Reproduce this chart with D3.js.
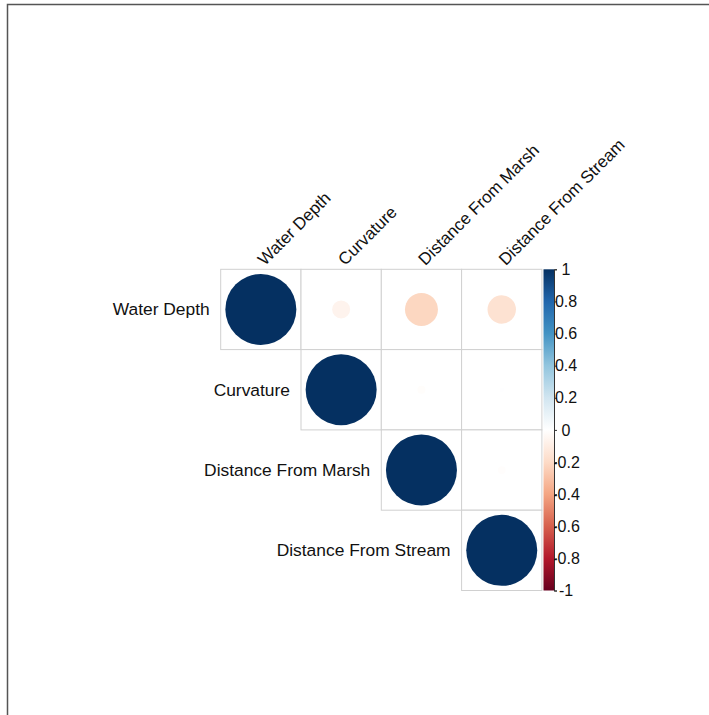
<!DOCTYPE html>
<html>
<head>
<meta charset="utf-8">
<script src="https://cdn.jsdelivr.net/npm/d3@7"></script>
<style>
  html, body { margin: 0; padding: 0; background: #fff; }
  svg { display: block; }
  text { font-family: "Liberation Sans", Arial, sans-serif; fill: #111; }
</style>
</head>
<body>
<svg id="chart" width="709" height="715"></svg>
<script>
// Variables of the correlation matrix
const variables = ["Water Depth", "Curvature", "Distance From Marsh", "Distance From Stream"];

// Correlation coefficients, one array per row (upper triangle is drawn)
const rowWaterDepth = [1, -0.064, -0.216, -0.16];
const rowCurvature = [-0.064, 1, -0.013, 0.004];
const rowDistanceMarsh = [-0.216, -0.013, 1, -0.012];
const rowDistanceStream = [-0.16, 0.004, -0.012, 1];

// Colour legend ticks
const legendTicks = [1, 0.8, 0.6, 0.4, 0.2, 0, -0.2, -0.4, -0.6, -0.8, -1];
const legendTickLabels = ["1", "0.8", "0.6", "0.4", "0.2", "0", "-0.2", "-0.4", "-0.6", "-0.8", "-1"];

// Diverging red-blue palette from -1 to 1
const paletteStops = [-1, -0.8, -0.6, -0.4, -0.2, 0, 0.2, 0.4, 0.6, 0.8, 1];
const paletteColors = ["#67001F", "#B2182B", "#D6604D", "#F4A582", "#FDDBC7", "#FFFFFF",
                       "#D1E5F0", "#92C5DE", "#4393C3", "#2166AC", "#053061"];

const matrix = [rowWaterDepth, rowCurvature, rowDistanceMarsh, rowDistanceStream];

const svg = d3.select("#chart");

// Outer frame (top and left edges)
svg.append("path")
  .attr("d", "M7.5,715 L7.5,4.5 L709,4.5")
  .attr("fill", "none")
  .attr("stroke", "#555")
  .attr("stroke-width", 1.5);

const gridLeft = 220.7, gridTop = 269.3, gridSize = 321.2;

const x = d3.scaleBand().domain(variables).range([gridLeft, gridLeft + gridSize]);
const y = d3.scaleBand().domain(variables).range([gridTop, gridTop + gridSize]);
const r = d3.scaleSqrt().domain([0, 1]).range([0, 35.5]);
const color = d3.scaleLinear().domain(paletteStops).range(paletteColors).interpolate(d3.interpolateRgb);

// Cells of the upper triangle
const cells = [];
matrix.forEach((row, i) => {
  row.forEach((v, j) => {
    if (j >= i) cells.push({ row: variables[i], col: variables[j], value: v });
  });
});

const g = svg.append("g");

g.selectAll("rect.cell")
  .data(cells)
  .join("rect")
  .attr("class", "cell")
  .attr("x", d => x(d.col))
  .attr("y", d => y(d.row))
  .attr("width", x.bandwidth())
  .attr("height", y.bandwidth())
  .attr("fill", "#fff")
  .attr("stroke", "#d0d0d0")
  .attr("stroke-width", 1);

g.selectAll("circle.corr")
  .data(cells)
  .join("circle")
  .attr("class", "corr")
  .attr("cx", d => x(d.col) + x.bandwidth() / 2)
  .attr("cy", d => y(d.row) + y.bandwidth() / 2)
  .attr("r", d => r(Math.abs(d.value)))
  .attr("fill", d => color(d.value));

// Row labels, right-aligned to the left of the first cell in each row
g.selectAll("text.rowlab")
  .data(variables)
  .join("text")
  .attr("class", "rowlab")
  .attr("x", d => x(d) - 11)
  .attr("y", d => y(d) + y.bandwidth() / 2)
  .attr("text-anchor", "end")
  .attr("dominant-baseline", "central")
  .style("font-size", "17.4px")
  .text(d => d);

// Column labels, rotated above the grid
g.selectAll("text.collab")
  .data(variables)
  .join("text")
  .attr("class", "collab")
  .attr("transform", d => `translate(${x(d) + x.bandwidth() / 2},${gridTop - 7}) rotate(-45)`)
  .attr("text-anchor", "start")
  .attr("dominant-baseline", "central")
  .style("font-size", "17px")
  .text(d => d);

// Colour legend
const barLeft = 543.5, barWidth = 10.5;
const yLegend = d3.scaleLinear().domain([-1, 1]).range([gridTop + gridSize, gridTop]);

const defs = svg.append("defs");
const grad = defs.append("linearGradient")
  .attr("id", "legendGrad")
  .attr("x1", 0).attr("y1", 1).attr("x2", 0).attr("y2", 0);
grad.selectAll("stop")
  .data(paletteStops)
  .join("stop")
  .attr("offset", d => (d + 1) / 2)
  .attr("stop-color", d => color(d));

const legendAxis = d3.axisRight(yLegend)
  .tickValues(legendTicks)
  .tickFormat((d, i) => legendTickLabels[i])
  .tickSize(3)
  .tickPadding(0);

const axisG = svg.append("g")
  .attr("transform", `translate(${barLeft + barWidth},0)`)
  .call(legendAxis);
axisG.select(".domain").attr("stroke", "#333").attr("stroke-width", 1);
axisG.selectAll(".tick line").attr("stroke", "#333");
axisG.selectAll(".tick text")
  .attr("x", 12)
  .attr("text-anchor", "middle")
  .attr("fill", "#111")
  .style("font-size", "16px")
  .style("font-family", "'Liberation Sans', Arial, sans-serif");

svg.append("rect")
  .attr("x", barLeft)
  .attr("y", gridTop)
  .attr("width", barWidth)
  .attr("height", gridSize)
  .attr("fill", "url(#legendGrad)");
</script>
</body>
</html>
